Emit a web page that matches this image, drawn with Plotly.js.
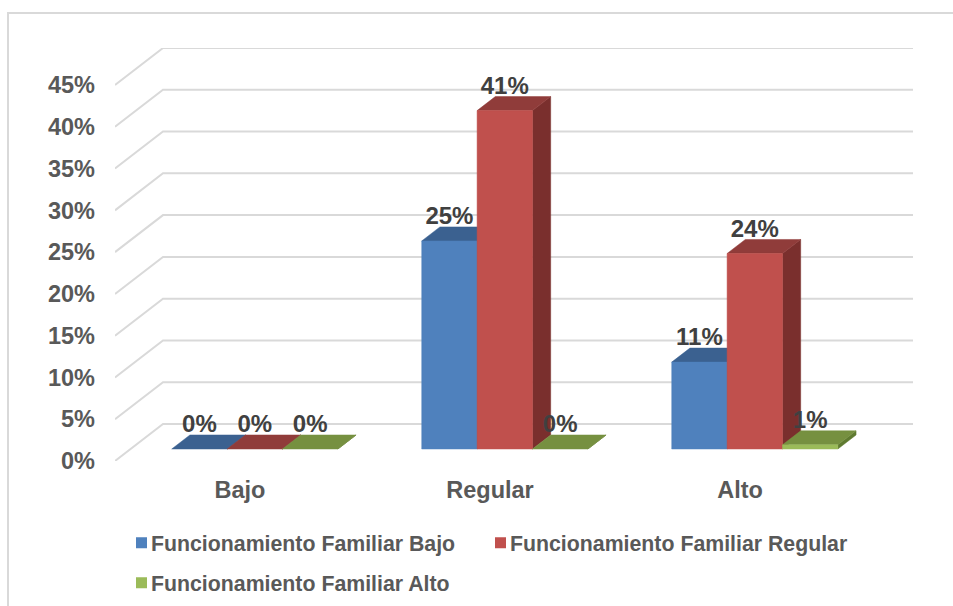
<!DOCTYPE html>
<html>
<head>
<meta charset="utf-8">
<script src="https://cdn.plot.ly/plotly-3.0.1.min.js"></script>
<style>
html,body{margin:0;padding:0;background:#fff;overflow:hidden}
#frame{position:absolute;left:7px;top:12px;width:946px;height:594px;border-left:2px solid #d9d9d9;border-top:2px solid #d9d9d9;box-sizing:border-box}
#chart{position:absolute;left:0;top:0;width:953px;height:606px}
</style>
</head>
<body>
<div id="frame"></div>
<div id="chart"></div>
<script>
const categories = ['Bajo', 'Regular', 'Alto'];
const seriesNames = ['Funcionamiento Familiar Bajo', 'Funcionamiento Familiar Regular', 'Funcionamiento Familiar Alto'];
const valuesBajo = [0, 24.9, 10.4];
const valuesRegular = [0, 40.5, 23.4];
const valuesAlto = [0, 0, 0.5];
const labelsBajo = ['0%', '25%', '11%'];
const labelsRegular = ['0%', '41%', '24%'];
const labelsAlto = ['0%', '0%', '1%'];
const yTicks = [0, 5, 10, 15, 20, 25, 30, 35, 40, 45];

const seriesValues = [valuesBajo, valuesRegular, valuesAlto];
const seriesLabels = [labelsBajo, labelsRegular, labelsAlto];
const frontColors = ['#4F81BD', '#C0504D', '#9BBB59'];
const topColors = ['#3B6190', '#903C3A', '#769040'];
const sideColors = ['#2F4E74', '#7A2F2D', '#5F7A30'];

// oblique projection, in axis units
const DX = 0.192, DY = 4.43, BAR_W = 0.2215, BAR_SHIFT = -0.003, D_FRONT = 0.324, D_BACK = 0.703, LABEL_UP = 2.75;
const px = (x, d) => x + DX * d;
const py = (v, d) => v + DY * d;

const traces = [];

// walls
const gx = [], gy = [];
yTicks.forEach(v => {
  gx.push(-0.5, px(-0.5, 1), px(2.5, 1), null);
  gy.push(v, py(v, 1), py(v, 1), null);
});
traces.push({x: gx, y: gy, mode: 'lines', line: {color: '#d9d9d9', width: 2}, showlegend: false, hoverinfo: 'skip'});

function poly(col, xs, ys) {
  return {x: xs, y: ys, mode: 'lines', fill: 'toself', fillcolor: col,
    line: {color: col, width: 0.5}, showlegend: false, hoverinfo: 'skip'};
}

seriesValues.forEach((vals, s) => {
  const side = {x: [], y: []}, top = {x: [], y: []}, front = {x: [], y: []};
  vals.forEach((v, c) => {
    const x0 = c + BAR_SHIFT + (s - 1.5) * BAR_W, x1 = x0 + BAR_W;
    side.x.push(px(x1, D_FRONT), px(x1, D_BACK), px(x1, D_BACK), px(x1, D_FRONT), px(x1, D_FRONT), null);
    side.y.push(py(0, D_FRONT), py(0, D_BACK), py(v, D_BACK), py(v, D_FRONT), py(0, D_FRONT), null);
    top.x.push(px(x0, D_FRONT), px(x0, D_BACK), px(x1, D_BACK), px(x1, D_FRONT), px(x0, D_FRONT), null);
    top.y.push(py(v, D_FRONT), py(v, D_BACK), py(v, D_BACK), py(v, D_FRONT), py(v, D_FRONT), null);
    if (v > 0) {
      front.x.push(px(x0, D_FRONT), px(x1, D_FRONT), px(x1, D_FRONT), px(x0, D_FRONT), px(x0, D_FRONT), null);
      front.y.push(py(0, D_FRONT), py(0, D_FRONT), py(v, D_FRONT), py(v, D_FRONT), py(0, D_FRONT), null);
    }
  });
  traces.push(poly(sideColors[s], side.x, side.y));
  traces.push(poly(topColors[s], top.x, top.y));
  if (front.x.length) traces.push(poly(frontColors[s], front.x, front.y));
});

// data labels
seriesValues.forEach((vals, s) => {
  traces.push({
    x: vals.map((v, c) => px(c + BAR_SHIFT + (s - 1) * BAR_W, D_FRONT)),
    y: vals.map(v => py(v, D_FRONT) + LABEL_UP),
    mode: 'text', text: seriesLabels[s], textposition: 'middle center',
    textfont: {family: 'Liberation Sans', size: 24, color: '#404040', weight: 700},
    showlegend: false, hoverinfo: 'skip'
  });
});

// legend entries
const legendIds = ['legend', 'legend2', 'legend3'];
seriesNames.forEach((n, s) => {
  traces.push({x: [null], y: [null], name: n, mode: 'markers', legend: legendIds[s],
    marker: {symbol: 'square', size: 11, color: frontColors[s]}, hoverinfo: 'skip'});
});

const L = 115, R = 913, T = 48, B = 461;
const legendAt = (textLeft, yc) => ({
  x: (textLeft - 40 - L) / (R - L), y: (B - yc) / (B - T),
  xanchor: 'left', yanchor: 'middle', bgcolor: 'rgba(0,0,0,0)', borderwidth: 0,
  font: {family: 'Liberation Sans', size: 21.3, color: '#595959', weight: 700},
  itemclick: false, itemdoubleclick: false
});

const layout = {
  width: 953, height: 606,
  margin: {l: L, r: 953 - R, t: T, b: 606 - B, pad: 0, autoexpand: false},
  paper_bgcolor: 'rgba(0,0,0,0)', plot_bgcolor: 'rgba(0,0,0,0)',
  xaxis: {range: [-0.5, 2.5 + DX], tickmode: 'array', tickvals: categories.map((_, i) => i), ticktext: categories,
    showgrid: false, zeroline: false, showline: false, ticks: '', ticklabelstandoff: 12, automargin: false,
    tickfont: {family: 'Liberation Sans', size: 23.5, color: '#595959', weight: 700}},
  yaxis: {range: [0, 45 + DY], tickmode: 'array', tickvals: yTicks, ticktext: yTicks.map(v => v + '%'),
    showgrid: false, zeroline: false, showline: false, ticks: '', ticklabelstandoff: 19, automargin: false,
    tickfont: {family: 'Liberation Sans', size: 23.5, color: '#595959', weight: 700}},
  legend: legendAt(151, 543),
  legend2: legendAt(510, 543),
  legend3: legendAt(151, 583),
  showlegend: true
};

Plotly.newPlot('chart', traces, layout, {displayModeBar: false}).then(gd => {
  gd.querySelectorAll('.legendsymbols').forEach(g => g.setAttribute('transform', 'translate(10.5,0)'));
});
</script>
</body>
</html>
